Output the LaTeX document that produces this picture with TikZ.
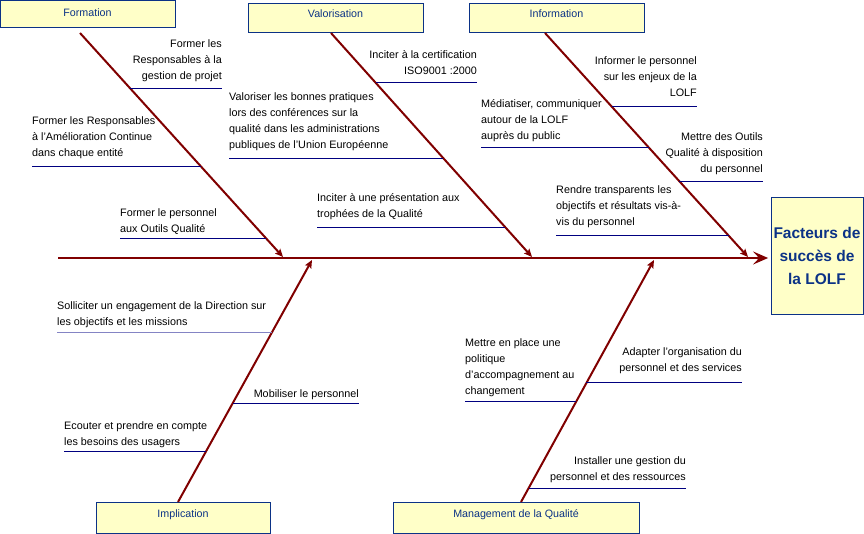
\documentclass[tikz,border=0pt]{standalone}
\usepackage{fontspec}
\setmainfont{Liberation Sans}
\usepackage{xcolor}
\usetikzlibrary{arrows.meta}
\definecolor{bonered}{HTML}{800000}
\definecolor{boxblue}{HTML}{0B3286}
\definecolor{boxfill}{HTML}{FFFFC8}
\definecolor{twigblue}{HTML}{000080}
\definecolor{paleblue}{HTML}{8484C4}

\begin{document}
\begin{tikzpicture}[
        x=1pt, y=-1pt,
        cat/.style={
            draw=boxblue,
            line width=0.8pt,
            fill=boxfill,
            text=boxblue,
            font=\fontsize{10.7}{13}\selectfont,
            anchor=north,
            inner sep=0pt,
            text height=14.5pt,
            text depth=15pt
        },
        effectbox/.style={
            draw=boxblue,
            line width=0.8pt,
            fill=boxfill,
            text=boxblue,
            font=\bfseries\fontsize{15.5}{23}\selectfont,
            align=center,
            inner sep=0pt,
            minimum width=92pt,
            minimum height=117pt
        },
        cause/.style={font=\fontsize{10.8}{16}\selectfont, inner sep=0pt},
        bone/.style={-{Stealth[length=8pt,width=7pt,inset=1.5pt]}, draw=bonered, line width=2pt},
        spine/.style={-{Stealth[length=15pt,width=13pt,inset=6pt]}, draw=bonered, line width=2.6pt},
        twig/.style={draw=twigblue, line width=0.9pt}
    ]
        \useasboundingbox (0,0) rectangle (864,534);

        % categories and effect
        \node[cat, minimum width=175pt, text height=16pt, text depth=11pt] (formation) at (87.5,0) {Formation};
        \node[cat, minimum width=175pt] (valorisation) at (335.5,2.7) {Valorisation};
        \node[cat, minimum width=175pt] (information) at (556.5,2.7) {Information};
        \node[cat, minimum width=174pt, text height=15pt, text depth=16pt] (implication) at (183,502) {Implication};
        \node[cat, minimum width=246pt, text height=15pt, text depth=16pt] (management) at (516,502) {Management de la Qualité};
        \node[effectbox] (effect) at (817,255.5) {Facteurs de\\succès de\\la LOLF};

        % spine
        \coordinate (sp-tail) at (58,258);
        \draw[spine, shorten >=2.5pt] (sp-tail) -- (sp-tail -| effect.west);

        % bones
        \coordinate (fo-tail) at (80,33);
        \coordinate (fo-head) at (283,257);
        \coordinate (va-tail) at (331,33);
        \coordinate (va-head) at (532,257);
        \coordinate (in-tail) at (545,33);
        \coordinate (in-head) at (748,257);
        \coordinate (im-tail) at (178,502);
        \coordinate (im-head) at (312,260);
        \coordinate (ma-tail) at (521,502);
        \coordinate (ma-head) at (654,260);

        \draw[bone] (fo-tail) -- coordinate[pos=0.246] (fo1) coordinate[pos=0.594] (fo2) coordinate[pos=0.915] (fo3) (fo-head);
        \draw[bone] (va-tail) -- coordinate[pos=0.223] (va1) coordinate[pos=0.558] (va2) coordinate[pos=0.866] (va3) (va-head);
        \draw[bone] (in-tail) -- coordinate[pos=0.330] (in1) coordinate[pos=0.513] (in2) coordinate[pos=0.661] (in3) coordinate[pos=0.906] (in4) (in-head);
        \draw[bone] (im-tail) -- coordinate[pos=0.702] (im1) coordinate[pos=0.409] (im2) coordinate[pos=0.207] (im3) (im-head);
        \draw[bone] (ma-tail) -- coordinate[pos=0.417] (ma1) coordinate[pos=0.492] (ma2) coordinate[pos=0.058] (ma3) (ma-head);

        % Formation
        \node[cause, align=right, anchor=base east] (t-fo1) at (222,80) {Former les\\Responsables à la\\gestion de projet};
        \node[cause, align=left, anchor=base west] (t-fo2) at (32,157) {Former les Responsables\\à l’Amélioration Continue\\dans chaque entité};
        \node[cause, align=left, anchor=base west] (t-fo3) at (120,233) {Former le personnel\\aux Outils Qualité};
        \draw[twig] (fo1) -- (fo1 -| t-fo1.east);
        \draw[twig] (fo2) -- (fo2 -| t-fo2.west);
        \draw[twig] (fo3) -- (fo3 -| t-fo3.west);

        % Valorisation
        \node[cause, align=right, anchor=base east] (t-va1) at (477,75) {Inciter à la certification\\ISO9001 :2000};
        \node[cause, align=left, anchor=base west] (t-va2) at (229,149) {Valoriser les bonnes pratiques\\lors des conférences sur la\\qualité dans les administrations\\publiques de l’Union Européenne};
        \node[cause, align=left, anchor=base west] (t-va3) at (317,218) {Inciter à une présentation aux\\trophées de la Qualité};
        \draw[twig] (va1) -- (va1 -| t-va1.east);
        \draw[twig] (va2) -- (va2 -| t-va2.west);
        \draw[twig] (va3) -- (va3 -| t-va3.west);

        % Information
        \node[cause, align=right, anchor=base east] (t-in1) at (697,97) {Informer le personnel\\sur les enjeux de la\\LOLF};
        \node[cause, align=left, anchor=base west] (t-in2) at (481,140) {Médiatiser, communiquer\\autour de la LOLF\\auprès du public};
        \node[cause, align=right, anchor=base east] (t-in3) at (763,173) {Mettre des Outils\\Qualité à disposition\\du personnel};
        \node[cause, align=left, anchor=base west] (t-in4) at (556,226) {Rendre transparents les\\objectifs et résultats vis-à-\\vis du personnel};
        \draw[twig] (in1) -- (in1 -| t-in1.east);
        \draw[twig] (in2) -- (in2 -| t-in2.west);
        \draw[twig] (in3) -- (in3 -| t-in3.east);
        \draw[twig] (in4) -- (in4 -| t-in4.west);

        % Implication
        \node[cause, align=left, anchor=base west] (t-im1) at (57,326) {Solliciter un engagement de la Direction sur\\les objectifs et les missions};
        \node[cause, align=right, anchor=base east] (t-im2) at (359,397) {Mobiliser le personnel};
        \node[cause, align=left, anchor=base west] (t-im3) at (64,445) {Ecouter et prendre en compte\\les besoins des usagers};
        \draw[twig, draw=paleblue] (im1) -- (im1 -| t-im1.west);
        \draw[twig] (im2) -- (im2 -| t-im2.east);
        \draw[twig] (im3) -- (im3 -| t-im3.west);

        % Management de la Qualite
        \node[cause, align=left, anchor=base west] (t-ma1) at (465,394) {Mettre en place une\\politique\\d’accompagnement au\\changement};
        \node[cause, align=right, anchor=base east] (t-ma2) at (742,371) {Adapter l’organisation du\\personnel et des services};
        \node[cause, align=right, anchor=base east] (t-ma3) at (686,480) {Installer une gestion du\\personnel et des ressources};
        \draw[twig] (ma1) -- (ma1 -| t-ma1.west);
        \draw[twig] (ma2) -- (ma2 -| t-ma2.east);
        \draw[twig] (ma3) -- (ma3 -| t-ma3.east);
    \end{tikzpicture}
\end{document}
